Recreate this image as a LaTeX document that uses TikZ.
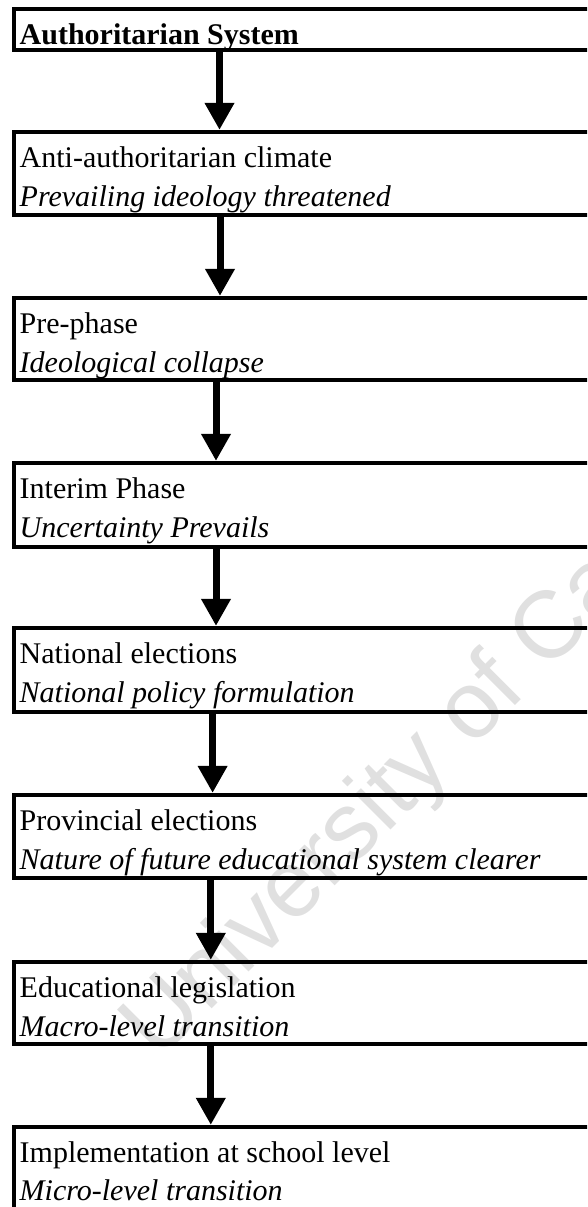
\documentclass[tikz,border=0pt]{standalone}
\usepackage{fontspec}
\setmainfont{Liberation Serif}
\newfontfamily\wmfont{Liberation Sans}
\usetikzlibrary{arrows.meta,calc}
\begin{document}
\begin{tikzpicture}[x=1pt,y=1pt,
  box/.style={draw=black, line width=4.2pt, rectangle, anchor=north west,
    minimum width=620pt, inner sep=0pt, outer sep=0pt},
  lbl/.style={anchor=base west, inner sep=0pt, font=\fontsize{30}{36}\selectfont},
  arr/.style={line width=7pt, -{Triangle[width=28pt,length=27pt]}, shorten >=2.1pt},
  wm/.style={anchor=base west, inner sep=0pt, text=black!12,
    font=\wmfont\fontsize{95}{100}\selectfont, rotate=45}]
\useasboundingbox (0,0) rectangle (587,-1207);
\clip (0,0) rectangle (587,-1207);
% watermark
\node[wm] (wmk) at (158.5,-1062) {University of Cape Town};
% boxes
\node[box, minimum height=41.3pt] (b1) at (14,-8.7) {};
\node[box, minimum height=83pt] (b2) at (14,-132) {};
\node[box, minimum height=82pt] (b3) at (14,-298) {};
\node[box, minimum height=84pt] (b4) at (14,-463) {};
\node[box, minimum height=84pt] (b5) at (14,-628) {};
\node[box, minimum height=83pt] (b6) at (14,-795) {};
\node[box, minimum height=82pt] (b7) at (14,-962) {};
\node[box, minimum height=86pt] (b8) at (14,-1127) {};
% texts
\node[lbl] (t1) at (19.5,-44.2) {\bfseries Authoritarian System};
\node[lbl] (t2a) at (19.5,-167.5) {Anti-authoritarian climate};
\node[lbl] (t2b) at (19.5,-206.5) {\itshape Prevailing ideology threatened};
\node[lbl] (t3a) at (19.5,-333.5) {Pre-phase};
\node[lbl] (t3b) at (19.5,-372.5) {\itshape Ideological collapse};
\node[lbl] (t4a) at (19.5,-498.5) {Interim Phase};
\node[lbl] (t4b) at (19.5,-537.5) {\itshape Uncertainty Prevails};
\node[lbl] (t5a) at (19.5,-663.5) {National elections};
\node[lbl] (t5b) at (19.5,-702.5) {\itshape National policy formulation};
\node[lbl] (t6a) at (19.5,-830.5) {Provincial elections};
\node[lbl] (t6b) at (19.5,-869.5) {\itshape Nature of future educational system clearer};
\node[lbl] (t7a) at (19.5,-997.5) {Educational legislation};
\node[lbl] (t7b) at (19.5,-1036.5) {\itshape Macro-level transition};
\node[lbl] (t8a) at (19.5,-1162) {Implementation at school level};
\node[lbl] (t8b) at (19.5,-1200.5) {\itshape Micro-level transition};
% arrows
\draw[arr] ($(b1.south west)+(205.5,0)$) -- ($(b2.north west)+(205.5,0)$);
\draw[arr] ($(b2.south west)+(206,0)$) -- ($(b3.north west)+(206,0)$);
\draw[arr] ($(b3.south west)+(202,0)$) -- ($(b4.north west)+(202,0)$);
\draw[arr] ($(b4.south west)+(202,0)$) -- ($(b5.north west)+(202,0)$);
\draw[arr] ($(b5.south west)+(198.6,0)$) -- ($(b6.north west)+(198.6,0)$);
\draw[arr] ($(b6.south west)+(196.8,0)$) -- ($(b7.north west)+(196.8,0)$);
\draw[arr] ($(b7.south west)+(196.8,0)$) -- ($(b8.north west)+(196.8,0)$);
\end{tikzpicture}
\end{document}
